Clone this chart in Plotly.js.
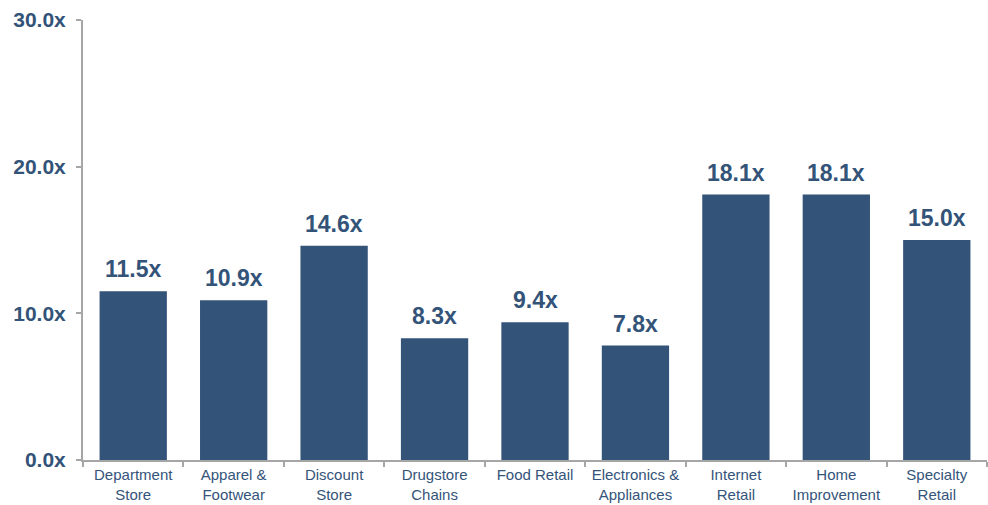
<!DOCTYPE html>
<html>
<head>
<meta charset="utf-8">
<script src="https://cdn.plot.ly/plotly-3.0.1.min.js"></script>
<style>html,body{margin:0;padding:0;background:#fff;}#chart{width:988px;height:505px;}</style>
</head>
<body>
<div id="chart"></div>
<script>
const categories = ["Department<br>Store", "Apparel &<br>Footwear", "Discount<br>Store", "Drugstore<br>Chains", "Food Retail", "Electronics &<br>Appliances", "Internet<br>Retail", "Home<br>Improvement", "Specialty<br>Retail"];
const values = [11.5, 10.9, 14.6, 8.3, 9.4, 7.8, 18.1, 18.1, 15.0];
const yTicks = [0, 10, 20, 30];

const trace = {
  type: "bar",
  x: categories,
  y: values,
  marker: {color: "#335378"},
  hoverinfo: "none"
};

const annotations = categories.map((c, i) => ({
  x: c, y: values[i], xref: "x", yref: "y",
  text: values[i].toFixed(1) + "x",
  showarrow: false, yanchor: "bottom", yshift: 7,
  font: {family: "Liberation Sans, Arial, sans-serif", size: 23, color: "#335378", weight: "bold"}
}));

const layout = {
  width: 988, height: 505,
  margin: {l: 83, r: 1, t: 20, b: 45},
  paper_bgcolor: "#fff", plot_bgcolor: "#fff",
  bargap: 0.33,
  showlegend: false,
  font: {family: "Liberation Sans, Arial, sans-serif"},
  annotations: annotations,
  xaxis: {
    type: "category",
    showline: true, linecolor: "#A6A6A6", linewidth: 2,
    ticks: "outside", tickson: "boundaries", ticklen: 5, tickcolor: "#A6A6A6", tickwidth: 2,
    tickfont: {size: 15, color: "#34547A"},
    showgrid: false, zeroline: false
  },
  yaxis: {
    range: [0, 30],
    tickvals: yTicks,
    ticktext: yTicks.map(v => v.toFixed(1) + "x"),
    showline: true, linecolor: "#A6A6A6", linewidth: 2,
    ticks: "outside", ticklen: 5, tickcolor: "#A6A6A6", tickwidth: 2,
    tickfont: {size: 21, color: "#335378", weight: "bold"},
    ticklabelstandoff: 6,
    showgrid: false, zeroline: false
  }
};

Plotly.newPlot("chart", [trace], layout, {staticPlot: true});
</script>
</body>
</html>
